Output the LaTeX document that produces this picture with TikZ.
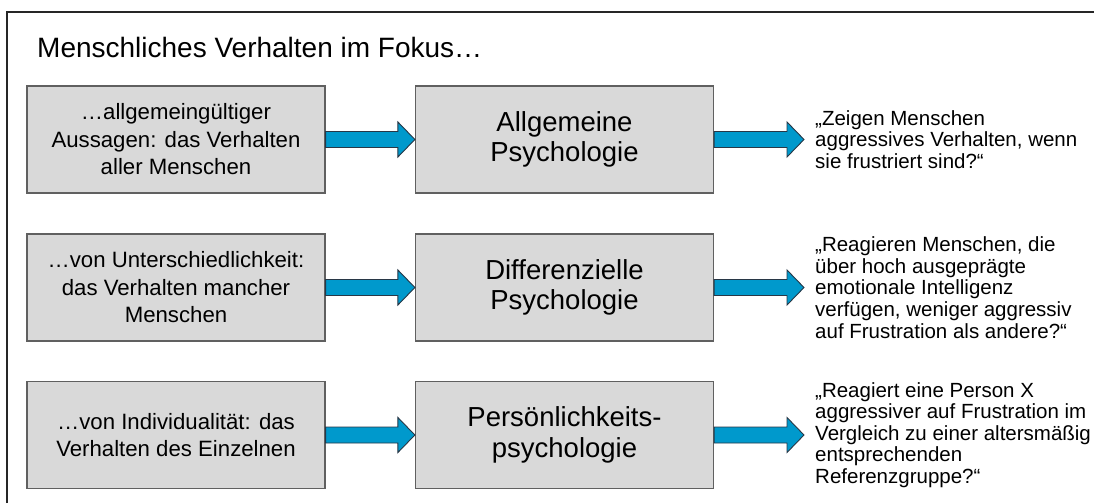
\documentclass[tikz,border=0pt]{standalone}
\usepackage{fontspec}
\setmainfont{Liberation Sans}
\usetikzlibrary{positioning, calc}

\definecolor{kastengrau}{RGB}{217,217,217}
\definecolor{randgrau}{RGB}{96,96,96}
\definecolor{pfeilblau}{RGB}{0,153,204}
\definecolor{pfeilrand}{RGB}{40,55,70}

\tikzset{
    linksbox/.style={draw=randgrau, line width=1.2pt, fill=kastengrau,
        minimum width=298pt, minimum height=107pt, inner sep=0pt, align=center,
        font=\fontsize{22.2}{27.5}\selectfont},
    mittebox/.style={linksbox, font=\fontsize{27.5}{30.5}\selectfont},
    frage/.style={inner sep=0pt, align=left, font=\fontsize{20.5}{21.6}\selectfont},
    blockpfeil/.style={fill=pfeilblau, draw=pfeilrand, line width=0.9pt, line join=miter}
}

% breiter Blockpfeil von einem Kasten zu einem Punkt
\newcommand{\blockpfeil}[2]{%
    \path[blockpfeil] let \p1=(#1.east), \p2=(#2) in
        (\x1,\y1+8pt) -- (\x2-17pt,\y1+8pt) -- (\x2-17pt,\y1+17.5pt) -- (\x2,\y1)
        -- (\x2-17pt,\y1-17.5pt) -- (\x2-17pt,\y1-8pt) -- (\x1,\y1-8pt) -- cycle;}

\begin{document}
\begin{tikzpicture}[x=1pt, y=-1pt]

    \useasboundingbox (0,0) rectangle (1094,503);
    \draw[line width=1.8pt, draw=black!85] (7,503) -- (7,12) -- (1094,12);

    \node[anchor=base west, inner sep=0pt, font=\fontsize{28}{33}\selectfont]
        (titel) at (37,57) {Menschliches Verhalten im Fokus…};

    \foreach \k/\zeile/\links/\mitte/\frage in {
        1/139.5/{…allgemeingültiger\\Aussagen: das Verhalten\\aller Menschen}/{Allgemeine\\Psychologie}/{„Zeigen Menschen\\aggressives Verhalten, wenn\\sie frustriert sind?“},
        2/287.5/{…von Unterschiedlichkeit:\\das Verhalten mancher\\Menschen}/{Differenzielle\\Psychologie}/{„Reagieren Menschen, die\\über hoch ausgeprägte\\emotionale Intelligenz\\verfügen, weniger aggressiv\\auf Frustration als andere?“},
        3/435/{…von Individualität: das\\Verhalten des Einzelnen}/{Persönlichkeits-\\psychologie}/{„Reagiert eine Person X\\aggressiver auf Frustration im\\Vergleich zu einer altersmäßig\\entsprechenden\\Referenzgruppe?“}%
    } {
        \node[linksbox] (links\k) at (176,\zeile) {\links};
        \node[mittebox] (mitte\k) at (564.5,\zeile) {\mitte};
        \coordinate (spitze\k) at (804,\zeile);
        \node[frage, right=11pt of spitze\k] (frage\k) {\frage};

        \blockpfeil{links\k}{mitte\k.west}
        \blockpfeil{mitte\k}{spitze\k}
    }

\end{tikzpicture}
\end{document}
